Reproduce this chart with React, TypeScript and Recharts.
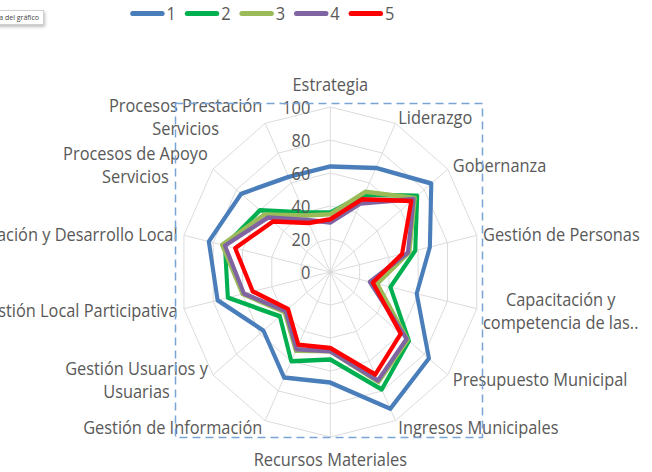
import { RadarChart, Radar, PolarGrid, PolarAngleAxis, PolarRadiusAxis, Legend } from "recharts";

// ejes del diagnóstico (orden horario desde arriba)
const categorias = [
  "Estrategia",
  "Liderazgo",
  "Gobernanza",
  "Gestión de Personas",
  "Capacitación y\ncompetencia de las..",
  "Presupuesto Municipal",
  "Ingresos Municipales",
  "Recursos Materiales",
  "Gestión de Información",
  "Gestión Usuarios y\nUsuarias",
  "Gestión Local Participativa",
  "Planificación y Desarrollo Local",
  "Procesos de Apoyo\nServicios",
  "Procesos Prestación\nServicios",
];

const serie1 = [64, 70, 86, 68, 59, 84, 92, 67, 71, 57, 77, 83, 76, 64];
const serie2 = [36, 52, 74, 58, 41, 67, 79, 53, 60, 43, 70, 72, 60, 40];
const serie3 = [35, 54, 72, 54, 32, 66, 74, 48, 53, 39, 60, 74, 56, 38];
const serie4 = [30, 46, 71, 53, 27, 65, 73, 48, 52, 38, 59, 72, 53, 35];
const serie5 = [32, 49, 69, 49, 29, 60, 69, 46, 49, 36, 53, 65, 49, 33];

const nombres = ["1", "2", "3", "4", "5"];
const colores = ["#4a7ebb", "#00b050", "#9bbb59", "#8064a2", "#ff0000"];
const escalaTicks = [0, 20, 40, 60, 80, 100];

const series = [serie1, serie2, serie3, serie4, serie5];
const data = categorias.map((c, i) => {
  const fila: Record<string, string | number> = { eje: c };
  series.forEach((s, k) => (fila["s" + k] = s[i]));
  return fila;
});

// la imagen original está comprimida en horizontal
const SX = 0.91;
const W = Math.round(652 / SX);
const H = 472;
const CX = 363;
const CY = 272;
const R = 165;
const FUENTE = '"Open Sans", sans-serif';
const FS = 18;
const LINEA = 23;
const GRIS = "#595959";

let ctx: CanvasRenderingContext2D | null = null;
function medir(t: string) {
  if (!ctx) ctx = document.createElement("canvas").getContext("2d");
  if (!ctx) return t.length * FS * 0.52;
  ctx.font = `${FS}px "Open Sans"`;
  return ctx.measureText(t).width;
}

function EtiquetaEje(props: any) {
  const { x, y, payload } = props;
  const lineas = String(payload.value).split("\n");
  const dx = x - CX;
  const dy = y - CY;
  const d = Math.hypot(dx, dy) || 1;
  const cos = dx / d;
  const sin = dy / d;
  const ancho = Math.max(...lineas.map(medir));
  let centroX = x;
  if (cos > 0.1) centroX = x + ancho / 2;
  else if (cos < -0.1) centroX = x - ancho / 2;
  const alto = lineas.length * LINEA;
  let centroY = y;
  if (Math.abs(cos) <= 0.1) centroY = y + sin * (alto / 2 + 4);
  const y0 = centroY - alto / 2 + LINEA / 2;
  return (
    <g>
      {lineas.map((l, i) => (
        <text
          key={i}
          x={centroX}
          y={y0 + i * LINEA}
          textAnchor="middle"
          dominantBaseline="central"
          fontFamily={FUENTE}
          fontSize={FS}
          fill={GRIS}
        >
          {l}
        </text>
      ))}
    </g>
  );
}

function EtiquetaRadio(props: any) {
  const { x, y, payload } = props;
  return (
    <text
      x={x - 22}
      y={y}
      textAnchor="end"
      dominantBaseline="central"
      fontFamily={FUENTE}
      fontSize={FS}
      fill={GRIS}
    >
      {payload.value}
    </text>
  );
}

function Leyenda({ payload }: any) {
  return (
    <div style={{ display: "flex", fontFamily: FUENTE, fontSize: 18, color: GRIS, lineHeight: "24px" }}>
      {(payload || []).map((p: any) => (
        <div key={p.value} style={{ display: "flex", alignItems: "center", width: 60 }}>
          <span
            style={{ display: "inline-block", width: 38, height: 5, borderRadius: 3, background: p.color, marginRight: 2 }}
          />
          <span>{p.value}</span>
        </div>
      ))}
    </div>
  );
}

export default function App() {
  return (
    <div style={{ position: "absolute", left: 0, top: 0, width: 652, height: 472, overflow: "hidden", background: "#fff" }}>
      <div style={{ position: "absolute", left: 0, top: 0, width: W, height: H, transform: `scaleX(${SX})`, transformOrigin: "0 0" }}>
        <RadarChart
          width={W}
          height={H}
          data={data}
          cx={CX}
          cy={CY}
          outerRadius={R}
          margin={{ top: 0, right: 0, bottom: 0, left: 0 }}
        >
          <PolarGrid gridType="polygon" stroke="#d9d9d9" strokeWidth={1} />
          <PolarAngleAxis dataKey="eje" tick={<EtiquetaEje />} tickLine={false} tickSize={7} axisLine={false} />
          <PolarRadiusAxis
            angle={90}
            domain={[0, 100]}
            ticks={escalaTicks as any}
            tickCount={6}
            axisLine={false}
            tick={<EtiquetaRadio />}
          />
          {nombres.map((n, k) => (
            <Radar
              key={n}
              name={n}
              dataKey={"s" + k}
              stroke={colores[k]}
              strokeWidth={4.5}
              strokeLinejoin="round"
              fill="none"
              fillOpacity={0}
              dot={false}
              isAnimationActive={false}
            />
          ))}
          <Legend
            verticalAlign="top"
            content={<Leyenda />}
            wrapperStyle={{ left: 143, top: 1, width: "auto" }}
          />
        </RadarChart>
      </div>
      <svg width={652} height={472} style={{ position: "absolute", left: 0, top: 0, pointerEvents: "none" }}>
        <rect x={175.5} y={103.5} width={307} height={334} fill="none" stroke="#7aa3d6" strokeWidth={1.5} strokeDasharray="8 5" />
      </svg>
      <div
        style={{
          position: "absolute",
          right: 608,
          top: 10,
          padding: "2px 4px",
          fontFamily: FUENTE,
          fontSize: 7,
          color: "#444",
          background: "#fff",
          border: "1px solid #d0d0d0",
          boxShadow: "1px 2px 3px rgba(0,0,0,0.25)",
          whiteSpace: "nowrap",
        }}
      >
        Área del gráfico
      </div>
    </div>
  );
}
